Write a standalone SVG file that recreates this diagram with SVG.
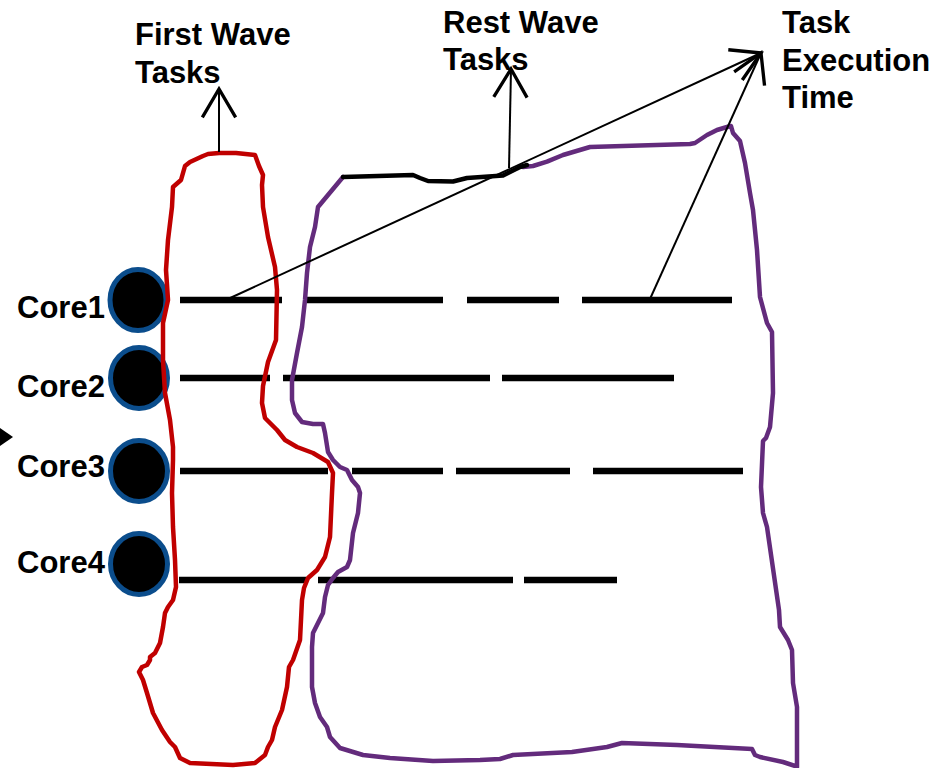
<svg xmlns="http://www.w3.org/2000/svg" width="950" height="768" viewBox="0 0 950 768">
<style>
.lbl{font-family:"Liberation Sans",Arial,sans-serif;font-weight:bold;font-size:31px;fill:#000}
.core{fill:#000;stroke:#0B4D8C;stroke-width:5}
.dash{stroke:#000;stroke-width:6.5;fill:none;stroke-linecap:butt}
.red{fill:none;stroke:#C00000;stroke-width:4.5;stroke-linejoin:round;stroke-linecap:round}
.pur{fill:none;stroke:#632B7C;stroke-width:4.5;stroke-linejoin:round;stroke-linecap:round}
.blk{fill:none;stroke:#000;stroke-width:4.5;stroke-linejoin:round;stroke-linecap:round}
.thin{fill:none;stroke:#000;stroke-width:2}
</style>
<defs>
<marker id="arr" markerUnits="userSpaceOnUse" markerWidth="40" markerHeight="40" viewBox="-20 -12 22 24" refX="0" refY="0" orient="auto" overflow="visible">
<path d="M-17,-10 L0,0 L-17,10" fill="none" stroke="#000" stroke-width="2"/>
</marker>
</defs>
<rect width="950" height="768" fill="#fff"/>

<g id="timelines">
<path class="dash" d="M180,300H282M307,300H443M467,300H559M582,300H732"/>
<path class="dash" d="M180,378H270M283,378H490M502,378H674"/>
<path class="dash" d="M180,471H328M352,471H443M456,471H570M593,471H743"/>
<path class="dash" d="M179,580H306M318,580H513M524,580H617"/>
</g>

<g id="core1"><ellipse class="core" cx="138" cy="300" rx="28" ry="30.5"/><text class="lbl" x="17" y="318">Core1</text></g>
<g id="core2"><ellipse class="core" cx="139" cy="378" rx="28.5" ry="30.5"/><text class="lbl" x="17" y="397">Core2</text></g>
<g id="core3"><ellipse class="core" cx="139" cy="471" rx="28.5" ry="30.5"/><text class="lbl" x="17" y="477">Core3</text></g>
<g id="core4"><ellipse class="core" cx="139" cy="564" rx="28.5" ry="30.5"/><text class="lbl" x="17" y="573">Core4</text></g>

<g id="first-wave">
<path class="red" d="M219,153 L236,153 L255,155 L259,166 L263,175 L262,185 L263,207 L268,237 L275,267 L277,290 L276,340 L268,362 L263,386 L262,403 L265,418 L277,430 L285,440 L297,447 L313,453 L328,462 L333,473 L332,493 L330,537 L325,557 L317,570 L308,578 L304,588 L302,600 L300,640 L293,660 L289,667 L287,687 L282,710 L275,727 L272,740 L268,747 L265,755 L255,763 L233,765 L190,763 L180,758 L175,747 L170,742 L162,730 L153,713 L147,693 L143,680 L139,672 L142,667 L147,665 L150,660 L150,657 L155,653 L160,643 L163,627 L165,613 L168,607 L173,600 L176,587 L175,560 L173,527 L172,493 L173,460 L173,447 L170,420 L165,393 L163,360 L163,323 L168,300 L166,270 L168,240 L172,207 L173,187 L181,180 L185,166 L190,162 L203,156 L208,154 Z"/>
<text class="lbl" x="135" y="45">First Wave</text>
<text class="lbl" x="135" y="83">Tasks</text>
</g>

<g id="rest-wave">
<path class="pur" d="M523,167 L533,166 L547,161.7 L563,155 L590,147 L690,144 L695,143 L707,135 L717,130 L727,127 L731,126 L733,133 L740,141 L745,163 L750,193 L753,210 L757,250 L760,297 L767,323 L772,332 L773,393 L770,427 L766,438 L763,441 L761,487 L763,513 L767,527 L779,610 L780,627 L788,640 L792,650 L793,683 L797,707 L797,767 M795,766 L783,762 L760,757 L755,755 L752,749 L677,745 L622,743 L607,747 L572,752 L513,755 L500,759 L480,760 L433,761 L390,758 L363,755 L340,748 L330,737 L327,727 L320,717 L315,703 L312,687 L312,647 L313,633 L318,623 L323,613 L325,597 L328,585 L333,578 L338,572 L347,567 L350,560 L353,533 L358,513 L360,493 L358,487 L352,480 L347,470 L340,467 L333,460 L328,452 L325,433 L323,424 L313,424 L302,422 L295,413 L292,400 L292,380 L297,353 L302,327 L305,300 L307,273 L310,247 L315,227 L318,207 L343,177"/>
<path class="blk" d="M343,177 L413,175 L420,178 L428,181 L453,181.5 L467,178 L503,175.5 L520,167 L527,165"/>
<text class="lbl" x="443" y="33">Rest Wave</text>
<text class="lbl" x="443" y="70">Tasks</text>
</g>

<g id="exec-time">
<text class="lbl" x="782" y="33">Task</text>
<text class="lbl" x="782" y="71">Execution</text>
<text class="lbl" x="782" y="108">Time</text>
</g>

<g id="connectors">
<path class="thin" d="M219,152 L219,89" marker-end="url(#arr)"/>
<path class="thin" d="M509,168 L511,69" marker-end="url(#arr)"/>
<path class="thin" d="M228,299 L761,53" marker-end="url(#arr)"/>
<path class="thin" d="M650,299 L761,53" marker-end="url(#arr)"/>
<polygon points="0,428 13,437 0,446" fill="#000"/>
</g>
</svg>
